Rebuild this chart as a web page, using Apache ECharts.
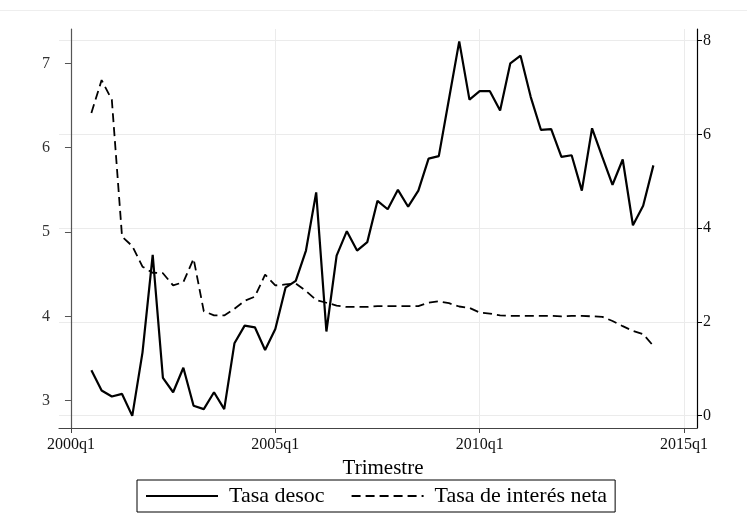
<!DOCTYPE html>
<html>
<head>
<meta charset="utf-8">
<script src="https://cdn.jsdelivr.net/npm/echarts@6/dist/echarts.min.js"></script>
<style>
  html, body { margin: 0; padding: 0; background: #fff; }
  #chart { width: 747px; height: 532px; }
</style>
</head>
<body>
<div id="chart"></div>
<script>
// Quarterly observations, 2000q3 - 2014q2
const quarters = [
  '2000q3','2000q4','2001q1','2001q2','2001q3','2001q4',
  '2002q1','2002q2','2002q3','2002q4',
  '2003q1','2003q2','2003q3','2003q4',
  '2004q1','2004q2','2004q3','2004q4',
  '2005q1','2005q2','2005q3','2005q4',
  '2006q1','2006q2','2006q3','2006q4',
  '2007q1','2007q2','2007q3','2007q4',
  '2008q1','2008q2','2008q3','2008q4',
  '2009q1','2009q2','2009q3','2009q4',
  '2010q1','2010q2','2010q3','2010q4',
  '2011q1','2011q2','2011q3','2011q4',
  '2012q1','2012q2','2012q3','2012q4',
  '2013q1','2013q2','2013q3','2013q4',
  '2014q1','2014q2'
];

// Unemployment rate (left axis)
const tasaDesoc = [
  3.36, 3.12, 3.05, 3.08, 2.82, 3.57,
  4.73, 3.27, 3.10, 3.39,
  2.94, 2.90, 3.10, 2.90,
  3.68, 3.89, 3.87, 3.60,
  3.85, 4.34, 4.42, 4.78,
  5.47, 3.82, 4.72, 5.01,
  4.78, 4.88, 5.37, 5.27,
  5.50, 5.30, 5.49, 5.87,
  5.90, 6.58, 7.26, 6.57,
  6.67, 6.67, 6.44, 7.00,
  7.09, 6.60, 6.21, 6.22,
  5.89, 5.91, 5.49, 6.23,
  5.89, 5.56, 5.86, 5.08,
  5.31, 5.79
];

// Net interest rate (right axis)
const tasaInteres = [
  6.46, 7.16, 6.74, 3.82, 3.62, 3.18,
  3.05, 3.04, 2.78, 2.85,
  3.35, 2.23, 2.14, 2.14,
  2.28, 2.45, 2.54, 3.01,
  2.78, 2.80, 2.82, 2.66,
  2.47, 2.41, 2.35, 2.32,
  2.32, 2.32, 2.34, 2.34,
  2.34, 2.34, 2.34, 2.41,
  2.44, 2.40, 2.33, 2.30,
  2.20, 2.18, 2.14, 2.13,
  2.13, 2.13, 2.13, 2.13,
  2.12, 2.13, 2.13, 2.12,
  2.11, 2.02, 1.91, 1.81,
  1.74, 1.49
];

const xTickLabels = ['2000q1', '2005q1', '2010q1', '2015q1'];
const leftTicks = [3, 4, 5, 6, 7];
const rightTicks = [0, 2, 4, 6, 8];

// quarter string -> quarters elapsed since 2000q1
function qIndex(s) {
  const m = /^(\d{4})q(\d)$/.exec(s);
  return (+m[1] - 2000) * 4 + (+m[2] - 1);
}
function qLabel(v) {
  const y = 2000 + Math.floor(v / 4);
  const q = ((v % 4) + 4) % 4 + 1;
  return y + 'q' + q;
}

const xTicks = xTickLabels.map(qIndex);
const desocData = quarters.map((q, i) => [qIndex(q), tasaDesoc[i]]);
const interesData = quarters.map((q, i) => [qIndex(q), tasaInteres[i]]);

const serif = 'Liberation Serif';
const chart = echarts.init(document.getElementById('chart'), null, { renderer: 'canvas' });

chart.setOption({
  backgroundColor: '#ffffff',
  animation: false,
  grid: { left: 59, right: 50, top: 29, bottom: 104, containLabel: false },
  graphic: [{
    type: 'line',
    shape: { x1: 0, y1: 10.5, x2: 747, y2: 10.5 },
    style: { stroke: '#eeeeee', lineWidth: 1 },
    silent: true
  }],
  legend: {
    left: 137,
    top: 480,
    orient: 'horizontal',
    padding: [5, 8, 5, 8],
    borderColor: '#000',
    borderWidth: 1,
    itemWidth: 72,
    itemHeight: 14,
    itemGap: 26,
    itemStyle: { opacity: 0 },
    textStyle: {
      fontFamily: serif,
      fontSize: 22,
      color: '#000',
      padding: [0, 0, 0, 6]
    },
    data: ['Tasa desoc', 'Tasa de interés neta']
  },
  xAxis: {
    type: 'value',
    min: -1.17,
    max: 61.27,
    name: 'Trimestre',
    nameLocation: 'middle',
    nameGap: 19,
    nameTextStyle: {
      fontFamily: serif, fontSize: 21, color: '#000',
      verticalAlign: 'top', padding: [0, 0, 0, 10]
    },
    axisLine: { show: true, onZero: false, lineStyle: { color: '#444', width: 1.2 } },
    axisTick: { show: true, length: 5, customValues: xTicks, lineStyle: { color: '#444' } },
    axisLabel: {
      customValues: xTicks,
      margin: 9,
      fontFamily: serif, fontSize: 16, color: '#111',
      formatter: v => qLabel(Math.round(v))
    },
    splitLine: { show: true, lineStyle: { color: '#ebebeb', width: 1 } }
  },
  yAxis: [{
    type: 'value',
    position: 'left',
    min: 2.676,
    max: 7.407,
    axisLine: { show: true, lineStyle: { color: '#555', width: 1.2 } },
    axisTick: { show: true, length: 6, customValues: leftTicks, lineStyle: { color: '#555' } },
    axisLabel: {
      customValues: leftTicks,
      margin: 9,
      fontFamily: serif, fontSize: 16, color: '#333'
    },
    splitLine: { show: false }
  }, {
    type: 'value',
    position: 'right',
    min: -0.262,
    max: 8.25,
    axisLine: { show: true, lineStyle: { color: '#000', width: 1.2 } },
    axisTick: { show: true, length: 5, customValues: rightTicks, lineStyle: { color: '#000' } },
    axisLabel: {
      customValues: rightTicks,
      margin: 6,
      fontFamily: serif, fontSize: 16, color: '#111'
    },
    splitLine: { show: true, lineStyle: { color: '#ebebeb', width: 1 } }
  }],
  series: [{
    name: 'Tasa desoc',
    type: 'line',
    yAxisIndex: 0,
    data: desocData,
    symbol: 'none',
    lineStyle: { color: '#000', width: 2.2, type: 'solid' },
    itemStyle: { color: '#000' },
    z: 3
  }, {
    name: 'Tasa de interés neta',
    type: 'line',
    yAxisIndex: 1,
    data: interesData,
    symbol: 'none',
    lineStyle: { color: '#000', width: 1.8, type: [9, 5] },
    itemStyle: { color: '#000' },
    z: 2
  }]
});
</script>
</body>
</html>
